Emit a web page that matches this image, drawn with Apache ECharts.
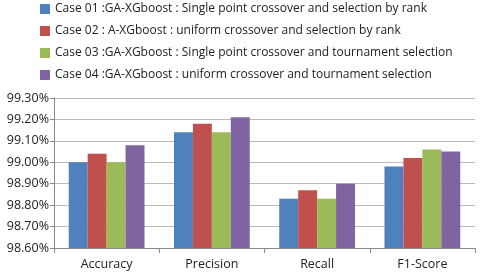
<!DOCTYPE html>
<html><head><meta charset="utf-8">
<script src="https://cdn.jsdelivr.net/npm/echarts@6/dist/echarts.min.js"></script>
<style>html,body{margin:0;padding:0;background:#fff}#c{width:480px;height:275px}</style>
</head><body><div id="c"></div>
<script>
const categories = ['Accuracy', 'Precision', 'Recall', 'F1-Score'];
const seriesNames = [
  'Case 01 :GA-XGboost : Single point crossover and selection by rank',
  'Case 02 : A-XGboost : uniform crossover and selection by rank',
  'Case 03 :GA-XGboost : Single point crossover and tournament selection',
  'Case 04 :GA-XGboost : uniform crossover and tournament selection'
];
const case01 = [99.00, 99.14, 98.83, 98.98];
const case02 = [99.04, 99.18, 98.87, 99.02];
const case03 = [99.00, 99.14, 98.83, 99.06];
const case04 = [99.08, 99.21, 98.90, 99.05];
const colors = ['#4F81BD', '#C0504D', '#9BBB59', '#8064A2'];
const values = [case01, case02, case03, case04];

const chart = echarts.init(document.getElementById('c'), null, {renderer: 'canvas'});
chart.setOption({
  animation: false,
  textStyle: {fontFamily: 'Open Sans'},
  legend: {
    orient: 'vertical', left: 35, top: -2, itemWidth: 10, itemHeight: 10, itemGap: 10,
    icon: 'rect',
    textStyle: {fontSize: 12, color: '#222', fontFamily: 'Open Sans'},
    data: seriesNames
  },
  grid: {left: 54, right: 5, top: 98, bottom: 27},
  xAxis: {
    type: 'category', data: categories,
    axisLine: {lineStyle: {color: '#888'}},
    axisTick: {show: true, lineStyle: {color: '#888'}, length: 5},
    axisLabel: {fontSize: 12.5, color: '#222', margin: 10}
  },
  yAxis: {
    type: 'value', min: 98.6, max: 99.3, interval: 0.1,
    axisLine: {show: true, lineStyle: {color: '#888'}},
    axisTick: {show: true, lineStyle: {color: '#888'}, length: 4, inside: false},
    splitLine: {lineStyle: {color: '#bbb'}},
    axisLabel: {fontSize: 12.5, color: '#222', margin: 5, formatter: v => v.toFixed(2) + '%'}
  },
  series: seriesNames.map((n, i) => ({
    name: n, type: 'bar', data: values[i], barGap: '0%', barCategoryGap: '28%',
    itemStyle: {color: colors[i]}
  }))
});
</script></body></html>
